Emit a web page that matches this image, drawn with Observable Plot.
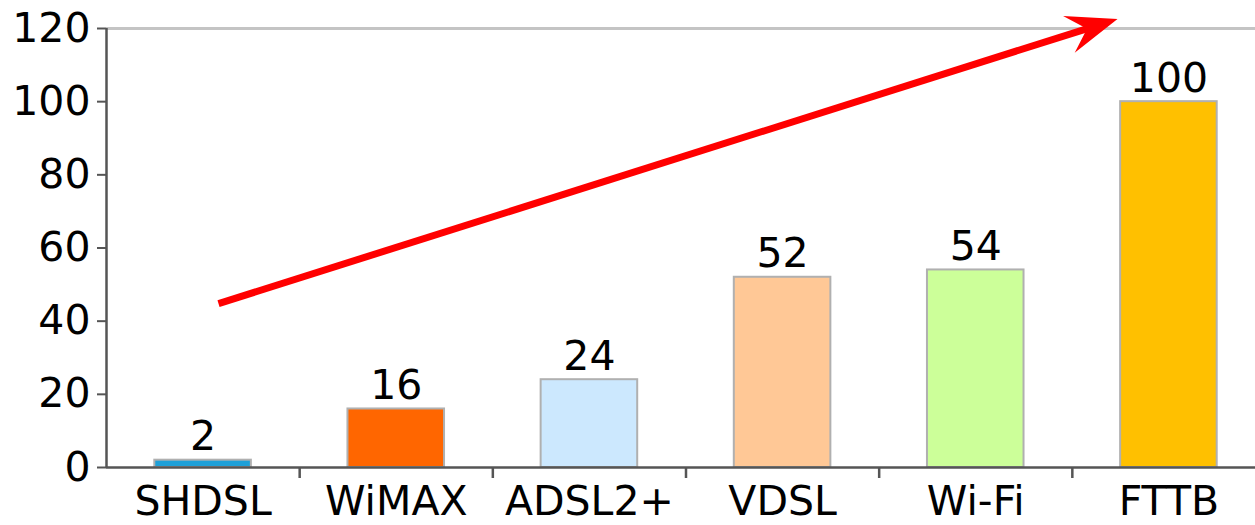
<!DOCTYPE html>
<html><head><meta charset="utf-8">
<script src="https://cdn.jsdelivr.net/npm/d3@7"></script>
<script src="https://cdn.jsdelivr.net/npm/@observablehq/plot@0.6"></script>
<style>
html,body{margin:0;padding:0;background:#fff}
#chart svg{overflow:visible;display:block}
</style>
</head><body><div id="chart"></div>
<script>
// ---- data ----
const categories = ["SHDSL", "WiMAX", "ADSL2+", "VDSL", "Wi-Fi", "FTTB"];
const values = [2, 16, 24, 52, 54, 100];
const barColors = ["#1ea0d8", "#ff6600", "#cce8fe", "#ffc896", "#ccff99", "#ffc000"];
const yTicks = [0, 20, 40, 60, 80, 100, 120];
// trend arrow (x in category-index units, y in value units)
const arrowStart = {x: 0.58, y: 44.8};
const arrowTip = {x: 5.234, y: 122.6};

const data = categories.map((c, i) => ({category: c, value: values[i], color: barColors[i], i}));
const separators = categories.slice(1).map((c, i) => i + 1);
const centers = categories.map((c, i) => i + 0.5);

const dart = {
  draw(ctx) {
    ctx.moveTo(0, 0);
    ctx.lineTo(-51, -19.3);
    ctx.lineTo(-32, 0);
    ctx.lineTo(-51, 19.3);
    ctx.closePath();
  }
};

const FS = 41;
const plot = Plot.plot({
  width: 1255,
  height: 525,
  marginTop: 28,
  marginBottom: 58,
  marginLeft: 106,
  marginRight: 0,
  style: {fontFamily: "'DejaVu Sans', Verdana, sans-serif", fontSize: FS + "px", color: "#000", background: "#fff"},
  x: {type: "linear", domain: [0, categories.length], range: [106, 1265], axis: null},
  y: {domain: [0, 120], axis: null},
  color: {type: "identity"},
  marks: [
    Plot.ruleY([120], {stroke: "#c4c4c4", strokeWidth: 3}),
    Plot.rectY(data, {x1: "i", x2: d => d.i + 1, y: "value", fill: "color", stroke: "#b0b0b0", strokeWidth: 2, insetLeft: 48.3, insetRight: 48.3}),
    Plot.text(data, {x: d => d.i + 0.5, y: "value", text: d => String(d.value), lineAnchor: "bottom", dy: -10, fontSize: FS, fill: "#000"}),
    Plot.ruleX([0], {stroke: "#555", strokeWidth: 2.5}),
    Plot.ruleY([0], {stroke: "#555", strokeWidth: 2.5}),
    Plot.axisY({ticks: yTicks, tickSize: 9, tickPadding: 7, stroke: "#555", strokeWidth: 2, fontSize: FS, label: null, color: "#000", tickFormat: d => String(d)}),
    Plot.axisX({ticks: separators, tickSize: 11, stroke: "#555", strokeWidth: 2.5, tickFormat: () => "", label: null}),
    Plot.axisX({ticks: centers, tickSize: 0, tickPadding: 18, fontSize: FS, label: null, tickFormat: d => categories[Math.floor(d)]}),
    Plot.arrow([{}], {x1: () => arrowStart.x, y1: () => arrowStart.y, x2: () => arrowTip.x, y2: () => arrowTip.y,
      stroke: "#ff0000", strokeWidth: 7, headLength: 0, insetEnd: 30, strokeLinecap: "butt"}),
    Plot.dot([arrowTip], {x: "x", y: "y", symbol: dart, rotate: -17.53, fill: "#ff0000", stroke: "none", r: 10})
  ]
});
document.getElementById("chart").append(plot);
</script>
</body></html>
